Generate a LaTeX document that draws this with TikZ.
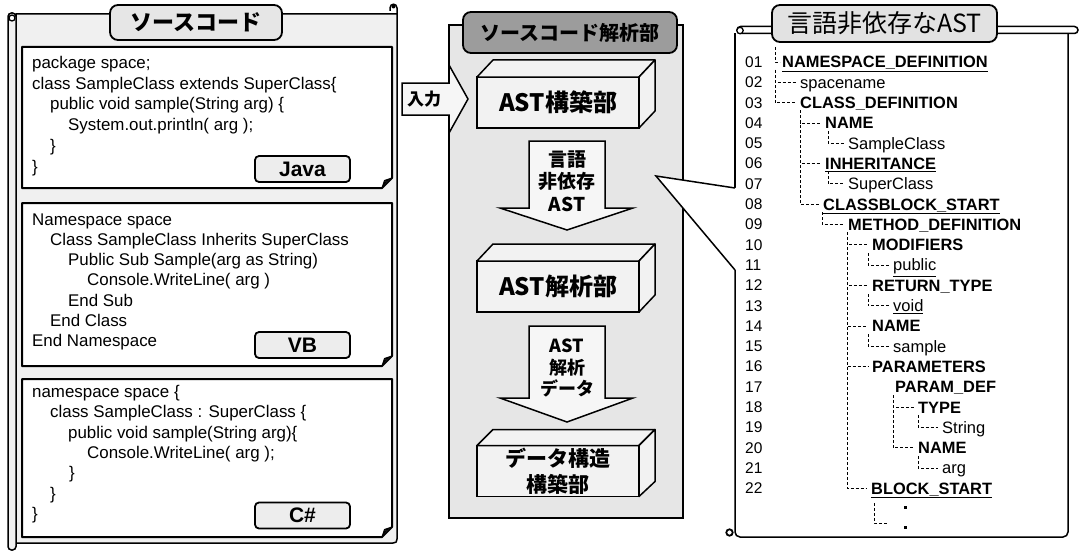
\documentclass[tikz,border=0pt]{standalone}
\usepackage{fontspec}
\setmainfont{Liberation Sans}
\newfontfamily\cjk{Noto Sans CJK JP}
\definecolor{panelL}{HTML}{F0F0F0}
\definecolor{panelM}{HTML}{E6E6E6}
\definecolor{titleD}{HTML}{9C9C9C}
\definecolor{titleL}{HTML}{E6E6E6}
\definecolor{titleR}{HTML}{E2E2E2}
\definecolor{lblfill}{HTML}{EDEDED}
\definecolor{faceC}{HTML}{F2F2F2}
\definecolor{arrC}{HTML}{F6F6F6}
\tikzset{
  lw/.style={line width=1.5pt},
  codebox/.style={draw, line width=2pt, fill=white, line join=round},
  fold/.style={draw, line width=1pt, fill=black!70, line join=round},
  codeline/.style={anchor=base west, inner sep=0pt, font=\fontsize{16.9}{20}\selectfont},
  langlbl/.style={draw, line width=1.8pt, rounded corners=4pt, fill=lblfill, minimum width=95pt, minimum height=26pt, inner sep=0pt, font=\fontsize{21}{24}\selectfont\bfseries},
  jptitle/.style={draw, line width=1.8pt, rounded corners=8pt, inner sep=0pt, font=\cjk\fontsize{22}{26}\selectfont\bfseries},
  front/.style={draw, line width=1.5pt, fill=faceC, minimum width=162pt, minimum height=51pt, inner sep=0pt, outer sep=0pt, align=center},
  face/.style={draw, line width=1.5pt, fill=faceC, line join=round},
  blockarrow/.style={draw, line width=1.5pt, fill=arrC, line join=miter},
  arrtext/.style={inner sep=0pt, align=center, font=\cjk\fontsize{19}{22.5}\selectfont\bfseries},
  numsty/.style={anchor=west, inner sep=0pt, text height=10.8pt, text depth=0pt, font=\fontsize{15.5}{18}\selectfont},
  item/.style={anchor=west, inner sep=0pt, text height=11.8pt, text depth=0pt, font=\fontsize{16.5}{19}\selectfont},
  itemb/.style={item, font=\fontsize{16.4}{19}\selectfont\bfseries},
  tree/.style={line width=0.75pt, dash pattern=on 3pt off 2pt},
}
\begin{document}
\begin{tikzpicture}[x=1pt,y=-1pt]
\useasboundingbox (0,0) rectangle (1081,551);

% ===================== LEFT PANEL =====================
\draw[lw, fill=panelL, line join=round] (16,14) -- (397,14) -- (397,539)
  .. controls (397,542) and (396,543) .. (393,543) -- (16,543) -- cycle;
\draw[lw, fill=panelL, rounded corners=3.5pt] (8,13) rectangle (16,550);
\draw[line width=1.3pt, fill=white] (12,18) circle (3);
\draw[lw] (397,14) -- (397,8) .. controls (397,3) and (390,3) .. (390,8) -- (390,11);
\fill[black] (393.5,6.5) circle (2);

\node[jptitle, fill=titleL, minimum width=172pt, minimum height=35pt] (srct) at (196,22.5) {ソースコード};

% Java box
\draw[codebox] (22,47) -- (392,47) -- (392,178) -- (382,188) -- (22,188) -- cycle;
\draw[fold] (382,188) -- (384.5,180.5) -- (392,178) .. controls (387,179.5) and (385,182) .. (382,188);
\node[codeline] (j1) at (32,68.5) {package space;};
\node[codeline] (j2) at (32,89.2) {class SampleClass extends SuperClass\{};
\node[codeline] (j3) at (50,109.9) {public void sample(String arg) \{};
\node[codeline] (j4) at (68,130.6) {System.out.println( arg );};
\node[codeline] (j5) at (50,151.3) {\}};
\node[codeline] (j6) at (32,172) {\}};
\node[langlbl] (ljava) at (302.5,169) {Java};

% VB box
\draw[codebox] (22,203) -- (392,203) -- (392,356) -- (382,366) -- (22,366) -- cycle;
\draw[fold] (382,366) -- (384.5,358.5) -- (392,356) .. controls (387,357.5) and (385,360) .. (382,366);
\node[codeline] (v1) at (32,225) {Namespace space};
\node[codeline] (v2) at (50,245.3) {Class SampleClass Inherits SuperClass};
\node[codeline] (v3) at (68,265.6) {Public Sub Sample(arg as String)};
\node[codeline] (v4) at (87,285.9) {Console.WriteLine( arg )};
\node[codeline] (v5) at (68,306.2) {End Sub};
\node[codeline] (v6) at (50,326.5) {End Class};
\node[codeline] (v7) at (32,346.8) {End Namespace};
\node[langlbl] (lvb) at (302.5,345) {VB};

% C# box
\draw[codebox] (22,379) -- (392,379) -- (392,527) -- (382,537) -- (22,537) -- cycle;
\draw[fold] (382,537) -- (384.5,529.5) -- (392,527) .. controls (387,528.5) and (385,531) .. (382,537);
\node[codeline] (c1) at (32,397.3) {namespace space \{};
\node[codeline] (c2) at (50,417.7) {class SampleClass : SuperClass \{};
\node[codeline] (c3) at (68,438.1) {public void sample(String arg)\{};
\node[codeline] (c4) at (87,458.5) {Console.WriteLine( arg );};
\node[codeline] (c5) at (69,478.9) {\}};
\node[codeline] (c6) at (50,499.3) {\}};
\node[codeline] (c7) at (32,519.7) {\}};
\node[langlbl] (lcs) at (302.5,515.5) {C\#};

% ===================== MIDDLE PANEL =====================
\draw[lw, fill=panelM] (449,25) rectangle (683,518);
\node[jptitle, fill=titleD, minimum width=214pt, minimum height=41pt, font=\cjk\fontsize{20}{24}\selectfont\bfseries] (midt) at (570,32.5) {ソースコード解析部};

% input arrow
\draw[blockarrow] (402,83) -- (449,83) -- (449,65) -- (468,99) -- (449,133) -- (449,115) -- (402,115) -- cycle;
\node[arrtext, font=\cjk\fontsize{17}{20}\selectfont\bfseries] (inp) at (424,99) {入力};

% box 1
\node[front, font=\cjk\fontsize{24}{26}\selectfont\bfseries] (b1) at (558,102.5) {AST構築部};
\draw[face] (b1.north west) -- ++(16,-17) -- ++(162,0) -- (b1.north east) -- cycle;
\draw[face] (b1.north east) -- ++(16,-17) -- ++(0,51) -- (b1.south east) -- cycle;

% arrow 1
\draw[blockarrow] (529,141) -- (605,141) -- (605,208) -- (633,208) -- (567,230) -- (500,208) -- (529,208) -- cycle;
\node[arrtext] (a1t) at (567,181) {言語\\非依存\\AST};

% box 2
\node[front, font=\cjk\fontsize{24}{26}\selectfont\bfseries] (b2) at (558,286.5) {AST解析部};
\draw[face] (b2.north west) -- ++(16,-17) -- ++(162,0) -- (b2.north east) -- cycle;
\draw[face] (b2.north east) -- ++(16,-17) -- ++(0,51) -- (b2.south east) -- cycle;

% arrow 2
\draw[blockarrow] (529,326) -- (605,326) -- (605,398) -- (633,398) -- (567,422) -- (500,398) -- (529,398) -- cycle;
\node[arrtext, font=\cjk\fontsize{18}{21.5}\selectfont\bfseries] (a2t) at (567,368) {AST\\解析\\データ};

% box 3
\node[front, font=\cjk\fontsize{21}{26}\selectfont\bfseries] (b3) at (558,471) {データ構造\\構築部};
\draw[face] (b3.north west) -- ++(16,-16) -- ++(162,0) -- (b3.north east) -- cycle;
\draw[face] (b3.north east) -- ++(16,-16) -- ++(0,52) -- (b3.south east) -- cycle;

% ===================== RIGHT PANEL =====================
\fill[white] (735,30) rectangle (1068,537);
\draw[lw] (735,188) -- (735,33);
\draw[lw, rounded corners=5pt] (735,270) -- (735,537) -- (1068,537) -- (1068,33);
\draw[lw, fill=white, rounded corners=3.5pt] (737,26.5) rectangle (1078,33.5);
\draw[line width=1.3pt, fill=white] (740,30.5) circle (3.2);
\draw[line width=1.8pt, fill=white] (729.5,532.5) circle (3.2);
% callout
\fill[white] (735.8,188) -- (656,176) -- (735.8,270) -- cycle;
\draw[lw, line join=miter] (735,188) -- (656,176) -- (735,270);

\node[jptitle, fill=titleR, minimum width=225pt, minimum height=37pt, font=\cjk\fontsize{25}{28}\selectfont] (astt) at (884.5,23.5) {言語非依存なAST};

\foreach \i in {1,...,22} {
  \pgfmathsetmacro\yy{62+(\i-1)*20.3}
  \node[numsty] (n\i) at (745,\yy) {\ifnum\i<10 0\fi\i};
}
\node[itemb] (t1) at (782,62) {\underline{NAMESPACE\_DEFINITION}};
\node[item]  (t2) at (800,82.3) {spacename};
\node[itemb] (t3) at (800,102.6) {CLASS\_DEFINITION};
\node[itemb] (t4) at (825,122.9) {NAME};
\node[item]  (t5) at (848,143.2) {SampleClass};
\node[itemb] (t6) at (825,163.5) {\underline{INHERITANCE}};
\node[item]  (t7) at (848,183.8) {SuperClass};
\node[itemb] (t8) at (823,204.1) {\underline{CLASSBLOCK\_START}};
\node[itemb] (t9) at (848,224.4) {METHOD\_DEFINITION};
\node[itemb] (t10) at (872,244.7) {MODIFIERS};
\node[item]  (t11) at (893,265) {\underline{public}};
\node[itemb] (t12) at (872,285.3) {RETURN\_TYPE};
\node[item]  (t13) at (893,305.6) {\underline{void}};
\node[itemb] (t14) at (872,325.9) {NAME};
\node[item]  (t15) at (893,346.2) {sample};
\node[itemb] (t16) at (872,366.5) {PARAMETERS};
\node[itemb] (t17) at (895,386.8) {PARAM\_DEF};
\node[itemb] (t18) at (918,407.1) {TYPE};
\node[item]  (t19) at (942,427.4) {String};
\node[itemb] (t20) at (918,447.7) {NAME};
\node[item]  (t21) at (942,468) {arg};
\node[itemb] (t22) at (871,488.3) {\underline{BLOCK\_START}};

% tree connectors
\draw[tree] (775,47) |- ([xshift=-2pt]t1.west);
\draw[tree] (775,70) |- ([xshift=-4pt]t2.west);
\draw[tree] (775,70) |- ([xshift=-4pt]t3.west);
\draw[tree] (800,110) |- ([xshift=-4pt]t4.west);
\draw[tree] (800,110) |- ([xshift=-4pt]t6.west);
\draw[tree] (800,110) |- ([xshift=-4pt]t8.west);
\draw[tree] (828,131) |- ([xshift=-4pt]t5.west);
\draw[tree] (828,171) |- ([xshift=-4pt]t7.west);
\draw[tree] (822,212) |- ([xshift=-4pt]t9.west);
\draw[tree] (847,232) |- ([xshift=-4pt]t10.west);
\draw[tree] (847,232) |- ([xshift=-4pt]t12.west);
\draw[tree] (847,232) |- ([xshift=-4pt]t14.west);
\draw[tree] (847,232) |- ([xshift=-4pt]t16.west);
\draw[tree] (847,232) |- ([xshift=-4pt]t22.west);
\draw[tree] (868,253) |- ([xshift=-4pt]t11.west);
\draw[tree] (868,294) |- ([xshift=-4pt]t13.west);
\draw[tree] (868,334) |- ([xshift=-4pt]t15.west);
\draw[tree] (893,395) |- ([xshift=-4pt]t18.west);
\draw[tree] (893,395) |- ([xshift=-4pt]t20.west);
\draw[tree] (918,415) |- ([xshift=-4pt]t19.west);
\draw[tree] (918,456) |- ([xshift=-4pt]t21.west);
\coordinate (tend) at (888,523);
\draw[tree] (874,503) |- (tend);
\fill (903.5,505.5) rectangle ++(3,3);
\fill (903.5,525.5) rectangle ++(3,3);
\end{tikzpicture}
\end{document}
